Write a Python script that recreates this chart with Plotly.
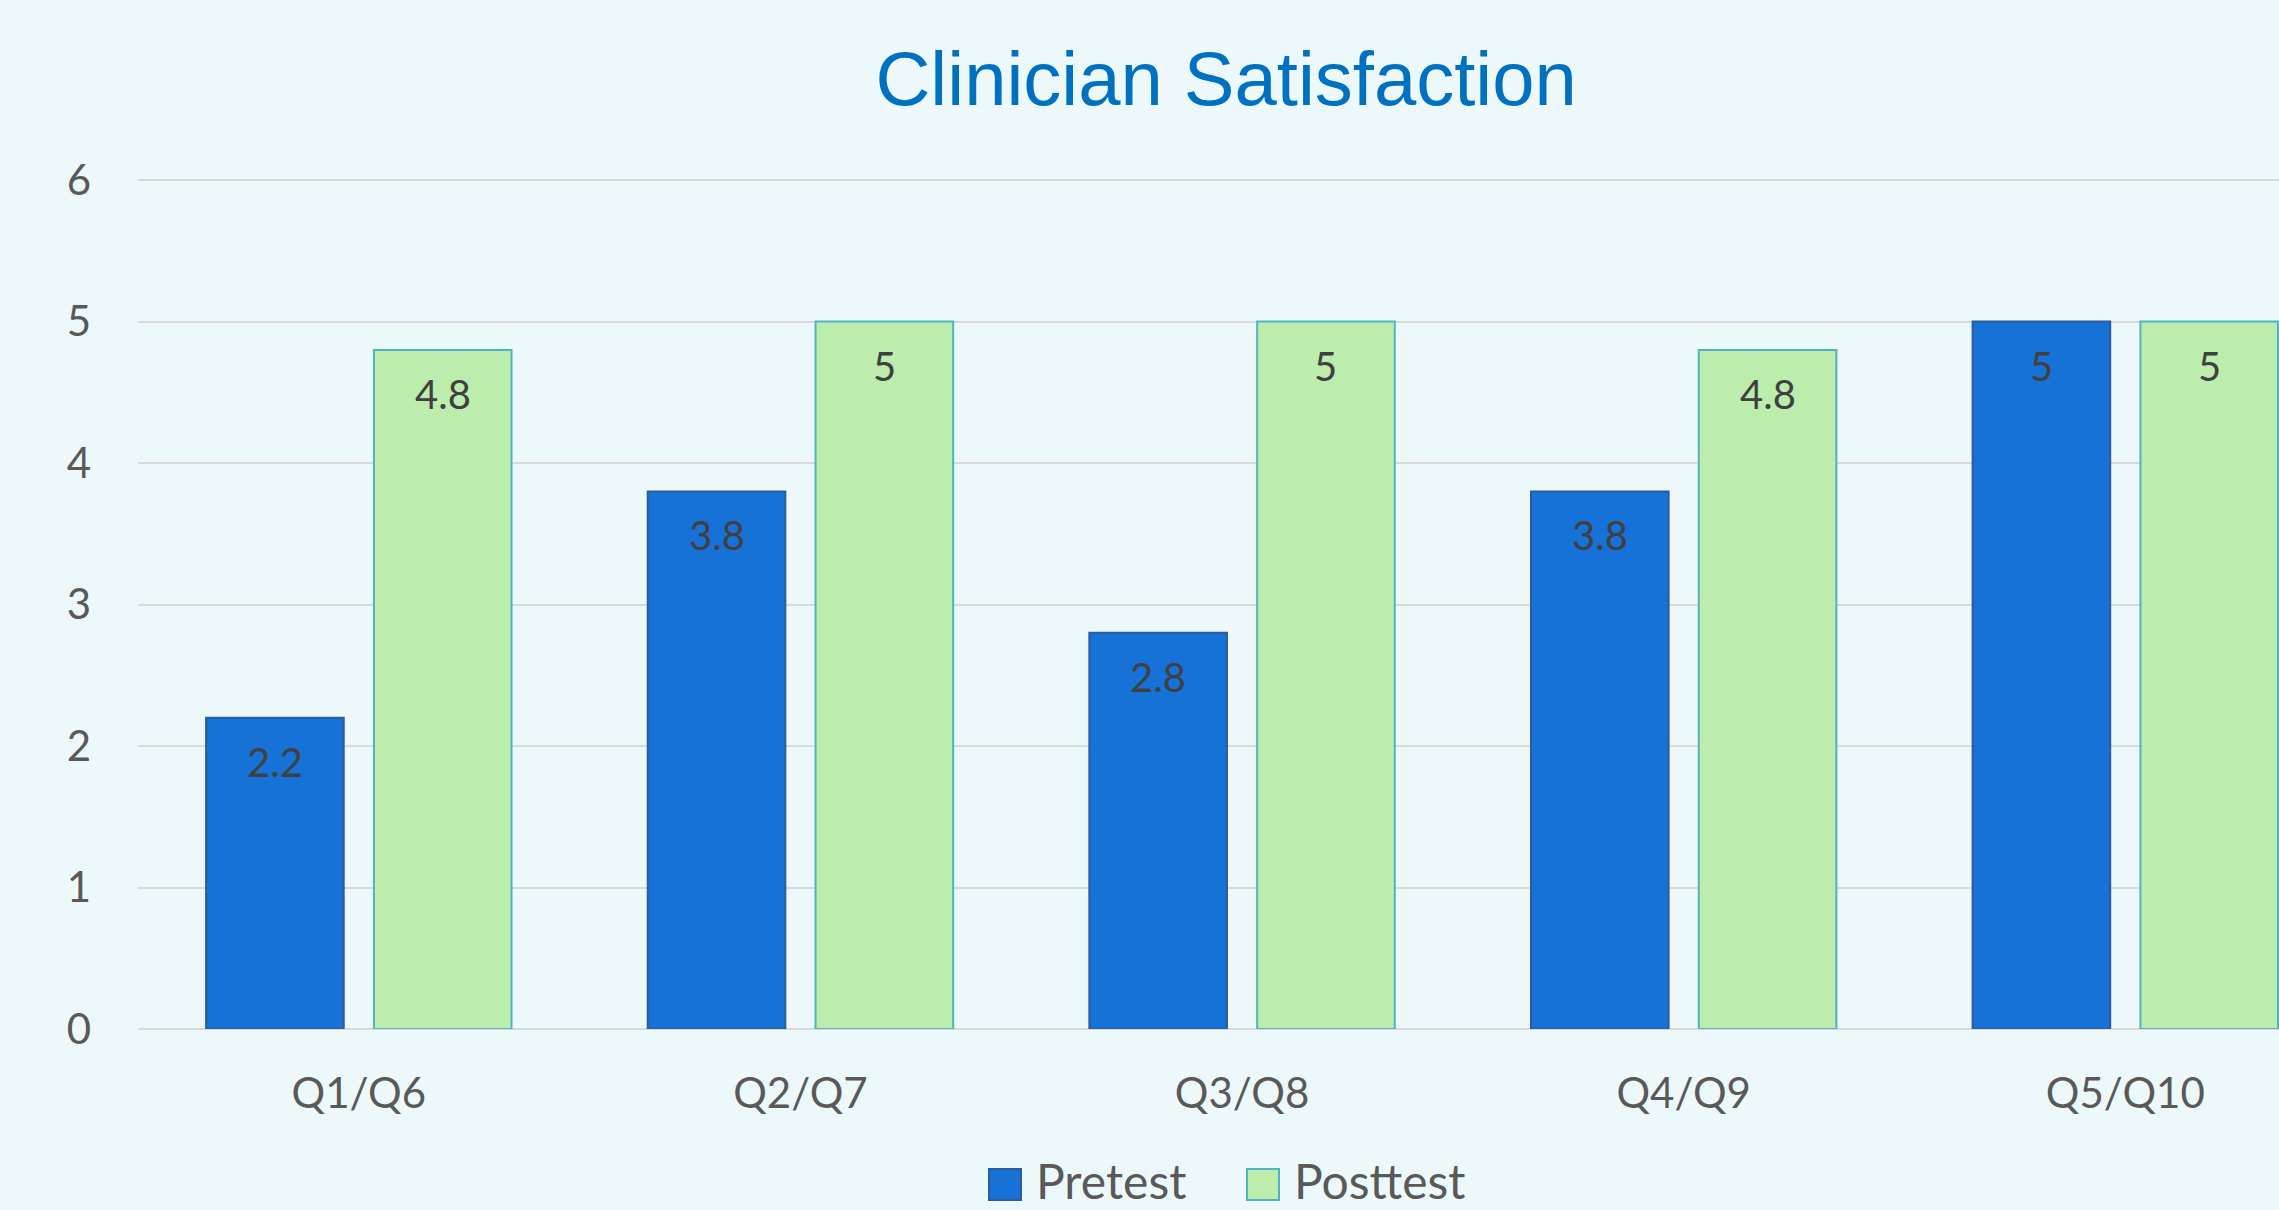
import plotly.graph_objects as go

categories = ["Q1/Q6", "Q2/Q7", "Q3/Q8", "Q4/Q9", "Q5/Q10"]
pretest = [2.2, 3.8, 2.8, 3.8, 5]
posttest = [4.8, 5, 5, 4.8, 5]
y_ticks = [0, 1, 2, 3, 4, 5, 6]

W, H = 2279, 1210
ML, MR, MT, MB = 138, 0, 179, 181
LABEL_FONT = "Lato, 'Open Sans', sans-serif"
BARGAP, BARGROUPGAP = 0.24, 0.18
slot_offset = (1 - BARGAP) / 4  # centre of each bar relative to its category

fig = go.Figure()
series = [("Pretest", pretest, "#1672d6", "#2c5c9c", -slot_offset),
          ("Posttest", posttest, "#bdedad", "#4fb3c4", slot_offset)]
annotations = []
for name, vals, fill, edge, off in series:
    fig.add_trace(go.Bar(
        name=name, x=categories, y=vals,
        marker=dict(color=fill, line=dict(color=edge, width=2)),
        showlegend=False, hoverinfo="x+y+name",
    ))
    for i, v in enumerate(vals):
        annotations.append(dict(
            x=i + off, y=v, xref="x", yref="y", text=f"{v:g}",
            showarrow=False, yanchor="middle", yshift=-44,
            font=dict(family=LABEL_FONT, size=40, color="#404040")))

pw = W - ML - MR
ph = H - MT - MB

def px_x(p):
    return (p - ML) / pw

def px_y(p):
    return (H - MB - p) / ph

# custom legend (swatches + labels)
legend_items = [("Pretest", "#1672d6", "#2c5c9c", 989, 1034),
                ("Posttest", "#bdedad", "#4fb3c4", 1247, 1292)]
shapes = []
for name, fill, edge, sx, tx in legend_items:
    shapes.append(dict(type="rect", xref="paper", yref="paper",
                       x0=px_x(sx), x1=px_x(sx + 32), y0=px_y(1200), y1=px_y(1169),
                       fillcolor=fill, line=dict(color=edge, width=2)))
    annotations.append(dict(text=name, xref="paper", yref="paper",
                            x=px_x(tx), y=px_y(1180), xanchor="left", yanchor="middle",
                            showarrow=False,
                            font=dict(family=LABEL_FONT, size=48, color="#595959")))

fig.update_layout(
    width=W, height=H,
    margin=dict(l=ML, r=MR, t=MT, b=MB),
    paper_bgcolor="#edf8fb",
    plot_bgcolor="rgba(0,0,0,0)",
    barmode="group", bargap=BARGAP, bargroupgap=BARGROUPGAP,
    title=dict(text="Clinician Satisfaction", x=0.538, xanchor="center",
               y=1 - 78 / H, yanchor="middle", yref="container",
               font=dict(family="Liberation Sans, Arial, sans-serif", size=76, color="#0070c0")),
    xaxis=dict(range=[-0.5, 4.348], showgrid=False, showline=False, zeroline=False,
               ticks="", tickfont=dict(family=LABEL_FONT, size=42, color="#595959"),
               ticklabelstandoff=36),
    yaxis=dict(range=[0, 6.008], tickvals=y_ticks, showgrid=True, gridcolor="#d9d9d9",
               gridwidth=2, zeroline=True, zerolinecolor="#d9d9d9", zerolinewidth=2,
               showline=False, ticks="",
               tickfont=dict(family=LABEL_FONT, size=42, color="#595959"),
               ticklabelstandoff=46),
    shapes=shapes,
    annotations=annotations,
)

fig.write_html("out.html",
               config={"displayModeBar": False},
               post_script="document.body.style.margin='0';"
                           "document.body.style.background='#edf8fb';")
